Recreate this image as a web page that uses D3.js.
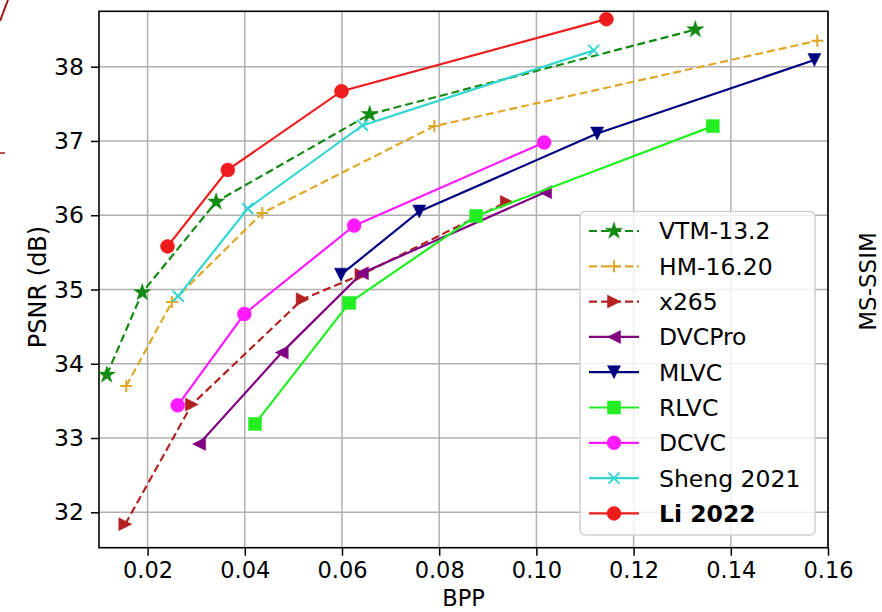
<!DOCTYPE html>
<html>
<head>
<meta charset="utf-8">
<script src="https://cdn.jsdelivr.net/npm/d3@7"></script>
<style>
  body { margin: 0; background: #fff; }
  svg { display: block; font-family: "DejaVu Sans", sans-serif; }
</style>
</head>
<body>
<svg id="chart" width="882" height="612"></svg>
<script>
// series data (bpp, psnr)
const names = ["VTM-13.2", "HM-16.20", "x265", "DVCPro", "MLVC", "RLVC", "DCVC", "Sheng 2021", "Li 2022"];
const colors = ["#138a13", "#e0a82a", "#b22222", "#800080", "#000080", "#22ee22", "#ff1aff", "#33d6d0", "#ee1c1c"];
const markers = ["star", "plus", "right", "left", "down", "square", "circle", "x", "circle"];
const dashed = [true, true, true, false, false, false, false, false, false];

const bpp = [
  [0.0116, 0.0189, 0.0341, 0.0657, 0.1327],
  [0.0156, 0.0250, 0.0436, 0.0790, 0.1578],
  [0.0154, 0.0291, 0.0519, 0.0640, 0.0939],
  [0.0306, 0.0476, 0.0641, 0.1018],
  [0.0598, 0.0759, 0.1125, 0.1572],
  [0.0421, 0.0615, 0.0876, 0.1363],
  [0.0262, 0.0399, 0.0625, 0.1016],
  [0.0263, 0.0406, 0.0642, 0.1118],
  [0.0241, 0.0365, 0.0599, 0.1144]
];
const psnr = [
  [33.85, 34.96, 36.18, 37.36, 38.50],
  [33.70, 34.83, 36.03, 37.20, 38.35],
  [31.84, 33.45, 34.87, 35.20, 36.18],
  [32.92, 34.15, 35.22, 36.31],
  [35.20, 36.05, 37.10, 38.09],
  [33.19, 34.82, 35.99, 37.20],
  [33.44, 34.67, 35.86, 36.98],
  [34.91, 36.09, 37.21, 38.22],
  [35.58, 36.61, 37.67, 38.64]
];

const xTicks = [0.02, 0.04, 0.06, 0.08, 0.10, 0.12, 0.14, 0.16];
const yTicks = [32, 33, 34, 35, 36, 37, 38];

const svg = d3.select("#chart");
const m = { left: 99, right: 828, top: 11.3, bottom: 547.7 };

const x = d3.scaleLinear().domain([0.01, 0.16]).range([m.left, m.right]);
const y = d3.scaleLinear().domain([31.523, 38.746]).range([m.bottom, m.top]);

// stray red strokes from the neighbouring figure
svg.append("path").attr("d", "M0,21 L8,0").attr("stroke", "#a01418").attr("stroke-width", 2).attr("fill", "none");
svg.append("path").attr("d", "M0,153 L5,153").attr("stroke", "#a01418").attr("stroke-width", 1.5);

// grid
svg.append("g").selectAll("line").data(xTicks).join("line")
  .attr("x1", d => x(d)).attr("x2", d => x(d)).attr("y1", m.top).attr("y2", m.bottom)
  .attr("stroke", "#b0b0b0").attr("stroke-width", 1.5);
svg.append("g").selectAll("line").data(yTicks).join("line")
  .attr("x1", m.left).attr("x2", m.right).attr("y1", d => y(d)).attr("y2", d => y(d))
  .attr("stroke", "#b0b0b0").attr("stroke-width", 1.5);

// axes
const xAxis = svg.append("g").attr("transform", `translate(0,${m.bottom})`)
  .call(d3.axisBottom(x).tickValues(xTicks).tickFormat(d3.format(".2f")).tickSize(8).tickPadding(6));
const yAxis = svg.append("g").attr("transform", `translate(${m.left},0)`)
  .call(d3.axisLeft(y).tickValues(yTicks).tickSize(8).tickPadding(7));
[xAxis, yAxis].forEach(a => {
  a.select(".domain").remove();
  a.selectAll(".tick line").attr("stroke", "#000").attr("stroke-width", 1.5);
  a.selectAll(".tick text").style("font-family", "DejaVu Sans").style("font-size", "22.5px").attr("fill", "#000");
});
yAxis.selectAll(".tick text").style("font-size", "23.5px");

svg.append("rect").attr("x", m.left).attr("y", m.top).attr("width", m.right - m.left).attr("height", m.bottom - m.top)
  .attr("fill", "none").attr("stroke", "#000").attr("stroke-width", 1.6);

// marker shapes
function markerPath(type, s) {
  const h = s / 2;
  switch (type) {
    case "star": return d3.symbol(d3.symbolStar, s * s * 0.75)();
    case "square": return `M${-h},${-h}H${h}V${h}H${-h}Z`;
    case "circle": return d3.symbol(d3.symbolCircle, Math.PI * h * h)();
    case "right": return `M${h},0L${-h},${-h}L${-h},${h}Z`;
    case "left": return `M${-h},0L${h},${-h}L${h},${h}Z`;
    case "down": return `M${-h},${-h}H${h}L0,${h}Z`;
    case "plus": return `M${-h},0H${h}M0,${-h}V${h}`;
    case "x": return `M${-h},${-h}L${h},${h}M${-h},${h}L${h},${-h}`;
  }
}
const markerSize = { star: 11, square: 13, circle: 14, right: 13, left: 13, down: 13, plus: 12, x: 11 };
const stroked = t => t === "plus" || t === "x";

function drawMarker(g, type, color, cx, cy) {
  g.append("path")
    .attr("d", markerPath(type, markerSize[type]))
    .attr("transform", `translate(${cx},${cy})`)
    .attr("fill", stroked(type) ? "none" : color)
    .attr("stroke", color)
    .attr("stroke-width", stroked(type) ? 2 : 0.5);
}

const line = d3.line().x(d => x(d[0])).y(d => y(d[1]));

names.forEach((name, i) => {
  const pts = bpp[i].map((b, j) => [b, psnr[i][j]]);
  const g = svg.append("g");
  g.append("path").datum(pts).attr("d", line)
    .attr("fill", "none").attr("stroke", colors[i]).attr("stroke-width", 2.2)
    .attr("stroke-dasharray", dashed[i] ? "8,4" : null);
  pts.forEach(p => drawMarker(g, markers[i], colors[i], x(p[0]), y(p[1])));
});

// legend
const lg = svg.append("g");
lg.append("rect").attr("x", 580).attr("y", 211.5).attr("width", 235).attr("height", 323.5).attr("rx", 5)
  .attr("fill", "#fff").attr("fill-opacity", 0.8).attr("stroke", "#d0d0d0").attr("stroke-width", 1.5);
names.forEach((name, i) => {
  const ly = 231 + i * 35.3;
  lg.append("line").attr("x1", 589).attr("x2", 639).attr("y1", ly).attr("y2", ly)
    .attr("stroke", colors[i]).attr("stroke-width", 2.2).attr("stroke-dasharray", dashed[i] ? "8,4" : null);
  drawMarker(lg, markers[i], colors[i], 614, ly);
  lg.append("text").attr("x", 659).attr("y", ly).attr("dy", "0.36em")
    .style("font-size", "23.5px").style("font-weight", name === "Li 2022" ? "bold" : "normal")
    .text(name);
});

// axis titles
svg.append("text").attr("x", (m.left + m.right) / 2).attr("y", 606).attr("text-anchor", "middle")
  .style("font-size", "22.5px").text("BPP");
svg.append("text").attr("transform", `translate(46,287) rotate(-90)`)
  .attr("text-anchor", "middle").style("font-size", "24px").text("PSNR (dB)");
svg.append("text").attr("transform", `translate(876,281.5) rotate(-90)`)
  .attr("text-anchor", "middle").style("font-size", "23px").text("MS-SSIM");
</script>
</body>
</html>
